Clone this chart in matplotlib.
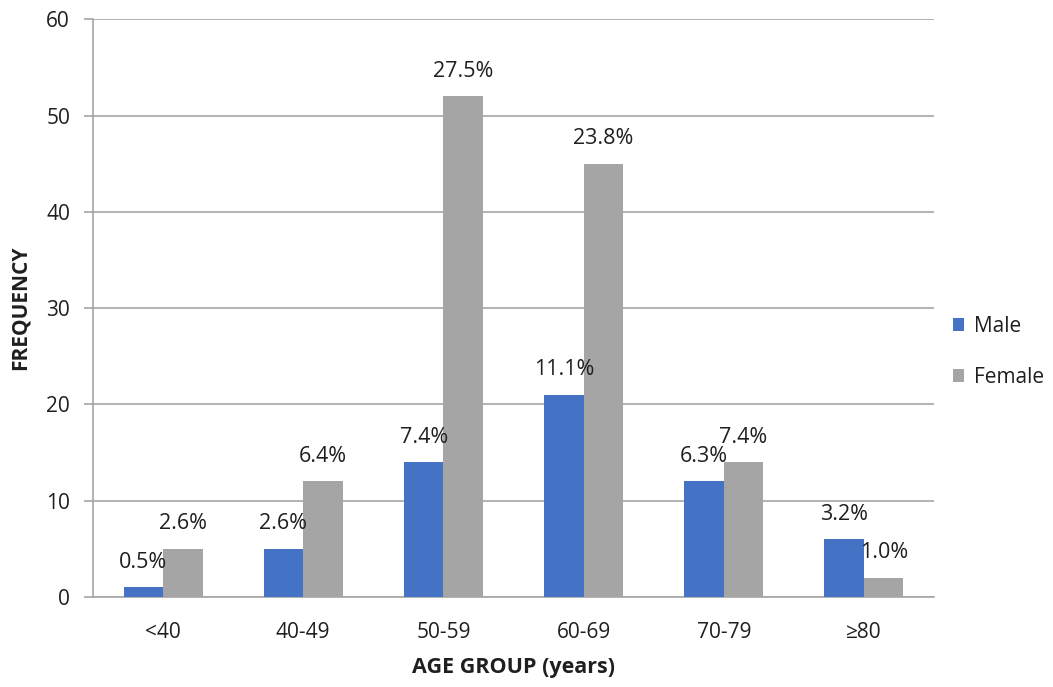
import matplotlib.pyplot as plt
import numpy as np

# data
age_groups = ['<40', '40-49', '50-59', '60-69', '70-79', '≥80']
male = [1, 5, 14, 21, 12, 6]
female = [5, 12, 52, 45, 14, 2]
male_pct = ['0.5%', '2.6%', '7.4%', '11.1%', '6.3%', '3.2%']
female_pct = ['2.6%', '6.4%', '27.5%', '23.8%', '7.4%', '1.0%']

plt.rcParams['font.family'] = ['Open Sans', 'DejaVu Sans']
text_color = '#1f1f1f'
grid_color = '#A6A6A6'

fig = plt.figure(figsize=(10.53, 6.87), dpi=100)
ax = fig.add_axes([0.0883, 0.131, 0.887 - 0.0883, 0.972 - 0.131])

x = np.arange(len(age_groups))
w = 0.282
bars_m = ax.bar(x - w / 2, male, w, color='#4472C4', label='Male', zorder=3)
bars_f = ax.bar(x + w / 2, female, w, color='#A5A5A5', label='Female', zorder=3)

# percentage labels above every bar
for bars, labels in ((bars_m, male_pct), (bars_f, female_pct)):
    for b, lab in zip(bars, labels):
        ax.annotate(lab, (b.get_x() + b.get_width() / 2, b.get_height()),
                    xytext=(0, 18), textcoords='offset points',
                    ha='center', va='center', fontsize=15.5, color=text_color)

ax.set_xlim(-0.5, len(age_groups) - 0.5)
ax.set_ylim(0, 60)
ax.set_yticks(range(0, 61, 10))
ax.set_xticks(x)
ax.set_xticklabels(age_groups)

ax.grid(axis='y', color=grid_color, linewidth=1.2, zorder=0)
for s in ['top', 'right']:
    ax.spines[s].set_visible(False)
for s in ['left', 'bottom']:
    ax.spines[s].set_color(grid_color)
    ax.spines[s].set_linewidth(1.2)

ax.tick_params(axis='y', length=6.5, width=1.2, color=grid_color, pad=10,
               labelsize=15, labelcolor=text_color)
ax.tick_params(axis='x', length=0, pad=18, labelsize=15, labelcolor=text_color)

ax.set_xlabel('AGE GROUP (years)', fontsize=15.5, fontweight='bold',
              color=text_color, labelpad=10)
ax.set_ylabel('FREQUENCY', fontsize=15, fontweight='bold', color=text_color)
ax.yaxis.set_label_coords(-0.074, 0.5)

fig.legend(loc='center left', bbox_to_anchor=(0.905, 0.488), frameon=False,
           fontsize=15, handlelength=0.55, handleheight=0.55, handletextpad=0.45,
           labelspacing=1.45, borderpad=0, borderaxespad=0,
           labelcolor=text_color)

fig.savefig('out.png', dpi=100)
